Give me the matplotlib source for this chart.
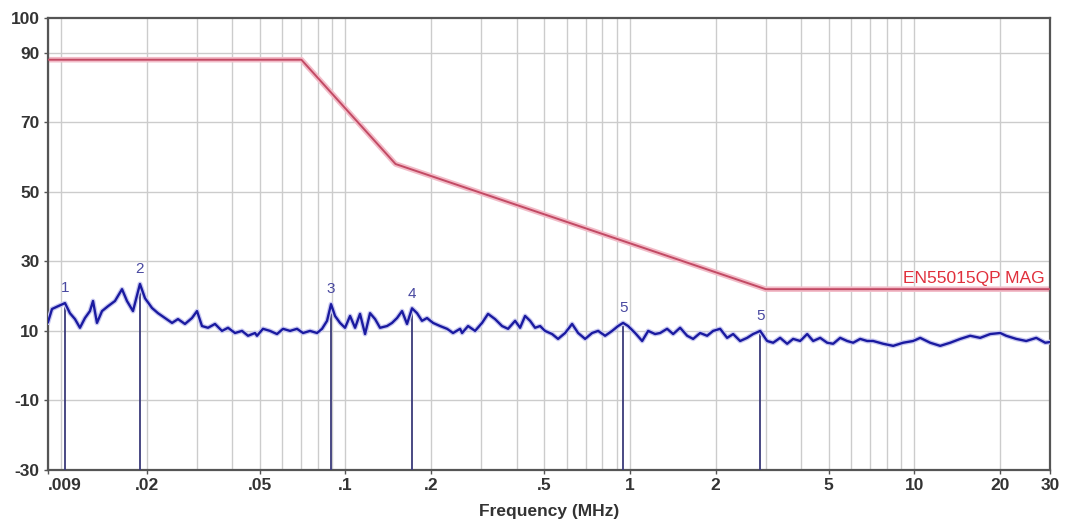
import numpy as np
import matplotlib
matplotlib.use('Agg')
import matplotlib.pyplot as plt
from matplotlib.ticker import FixedLocator, NullFormatter

plt.rcParams['font.family'] = ['Liberation Sans', 'DejaVu Sans']

# limit line EN55015 QP (magnetic), MHz / dB
limit_freq = [0.009, 0.07, 0.15, 3.0, 30.0]
limit_level = [88, 88, 58, 22, 22]

trace_freq = [0.0090, 0.00930, 0.00976, 0.01033, 0.01075, 0.01120, 0.01166, 0.01214,
              0.01264, 0.01296, 0.01338, 0.01394, 0.01463, 0.01548, 0.01639, 0.01706,
              0.01791, 0.01895, 0.01974, 0.02089, 0.02193, 0.02321, 0.02457, 0.02578,
              0.02728, 0.02887, 0.03007, 0.03131, 0.03287, 0.03479, 0.03681, 0.03865,
              0.04090, 0.04328, 0.04544, 0.04808, 0.04887, 0.05131, 0.05430, 0.05746,
              0.06033, 0.06384, 0.06756, 0.07093, 0.07506, 0.07946, 0.08273, 0.08615,
              0.08899, 0.09190, 0.09570, 0.09965, 0.1038, 0.1081, 0.1125, 0.1172,
              0.1220, 0.1271, 0.1323, 0.1400, 0.1458, 0.1518, 0.1581, 0.1646,
              0.1714, 0.1785, 0.1858, 0.1935, 0.2032, 0.2151, 0.2276, 0.2389,
              0.2529, 0.2570, 0.2698, 0.2855, 0.3021, 0.3171, 0.3356, 0.3552,
              0.3729, 0.3948, 0.4110, 0.4280, 0.4457, 0.4640, 0.4832, 0.5031,
              0.5325, 0.5589, 0.5917, 0.6262, 0.6574, 0.6958, 0.7362, 0.7730,
              0.8179, 0.8657, 0.9087, 0.9462, 0.9854, 1.043, 1.104, 1.159,
              1.226, 1.277, 1.351, 1.419, 1.501, 1.589, 1.668, 1.765,
              1.868, 1.961, 2.075, 2.196, 2.306, 2.440, 2.582, 2.711,
              2.870, 3.036, 3.187, 3.373, 3.570, 3.747, 3.967, 4.198,
              4.407, 4.664, 4.935, 5.181, 5.483, 5.802, 6.091, 6.446,
              6.822, 7.161, 7.768, 8.423, 9.130, 9.901, 10.48, 11.36,
              12.32, 13.36, 14.49, 15.71, 17.03, 18.47, 20.03, 21.02,
              22.80, 24.72, 26.81, 28.83, 30.0]
trace_level = [12.5, 16.3, 17.1, 18.0, 15.1, 13.4, 10.9, 13.7,
               15.7, 18.6, 12.3, 15.7, 17.1, 18.6, 22.0, 18.6,
               15.7, 23.5, 19.4, 16.6, 15.1, 13.7, 12.3, 13.4,
               12.0, 13.7, 15.7, 11.4, 10.9, 12.0, 10.0, 10.9,
               9.4, 10.0, 8.6, 9.4, 8.6, 10.6, 10.0, 9.1,
               10.6, 10.0, 10.6, 9.4, 10.0, 9.4, 10.6, 12.9,
               17.7, 14.3, 12.3, 10.9, 14.3, 10.9, 14.9, 9.1,
               15.1, 13.4, 10.9, 11.4, 12.3, 13.7, 15.7, 12.0,
               16.5, 15.1, 12.9, 13.7, 12.3, 11.4, 10.6, 9.4,
               10.6, 9.4, 11.4, 10.0, 12.3, 14.9, 13.4, 11.4,
               10.6, 12.9, 10.9, 14.3, 12.9, 10.9, 11.4, 10.0,
               9.1, 7.7, 9.4, 12.0, 9.4, 7.7, 9.4, 10.0,
               8.6, 10.0, 11.4, 12.3, 11.4, 9.4, 7.1, 10.0,
               9.1, 9.4, 10.6, 9.1, 10.9, 8.6, 7.7, 9.4,
               8.6, 10.0, 10.6, 8.0, 9.1, 7.1, 8.0, 9.1,
               10.0, 7.1, 6.6, 8.0, 6.3, 7.7, 7.1, 9.1,
               7.1, 8.0, 6.6, 6.3, 8.0, 7.1, 6.6, 7.7,
               7.1, 7.1, 6.3, 5.7, 6.6, 7.1, 8.0, 6.6,
               5.7, 6.6, 7.7, 8.6, 8.0, 9.1, 9.4, 8.6,
               7.7, 7.1, 8.0, 6.6, 6.8]

# peak markers
marker_labels = ['1', '2', '3', '4', '5', '5']
marker_freq = [0.01033, 0.01895, 0.08899, 0.1714, 0.9462, 2.870]
marker_level = [18.0, 23.5, 17.7, 16.5, 12.3, 10.0]

xtick_vals = [0.009, 0.02, 0.05, 0.1, 0.2, 0.5, 1, 2, 5, 10, 20, 30]
xtick_text = ['.009', '.02', '.05', '.1', '.2', '.5', '1', '2', '5', '10', '20', '30']
ytick_vals = [-30, -10, 10, 30, 50, 70, 90, 100]

fig = plt.figure(figsize=(10.73, 5.26), dpi=100)
ax = fig.add_axes([0.0447, 0.1065, 0.934, 0.8593])
ax.set_xscale('log')
ax.set_xlim(0.009, 30)
ax.set_ylim(-30, 100)

# grid: every 1..9 of each decade, every 20 dB
minor = [m * 10.0 ** e for e in range(-3, 2) for m in range(1, 10)]
minor = [v for v in minor if 0.009 < v < 30]
for v in minor:
    ax.axvline(v, color='#cccccc', lw=1.0, zorder=0)
for v in [-10, 10, 30, 50, 70, 90]:
    ax.axhline(v, color='#cccccc', lw=1.0, zorder=0)

ax.plot(limit_freq, limit_level, color='#f2bcc8', lw=4, zorder=2, solid_capstyle='butt')
ax.plot(limit_freq, limit_level, color='#c24a64', lw=1.4, zorder=3)
ax.text(28.6, 25.2, 'EN55015QP MAG', color='#e0303c', fontsize=12.5,
        ha='right', va='center', zorder=4)

ax.plot(trace_freq, trace_level, color='#c8c8f0', lw=3.5, zorder=4)
ax.plot(trace_freq, trace_level, color='#1a1aa0', lw=1.7, zorder=4)

for lab, f, lv in zip(marker_labels, marker_freq, marker_level):
    ax.plot([f, f], [-30, lv], color='#3a3a7a', lw=1.3, zorder=3)
    ax.text(f, lv + 2.2, lab, color='#4848a0', fontsize=11, ha='center', va='bottom', zorder=5)

ax.xaxis.set_major_locator(FixedLocator(xtick_vals))
ax.xaxis.set_minor_formatter(NullFormatter())
ax.xaxis.set_minor_locator(FixedLocator([]))
ax.set_xticklabels(xtick_text)
ax.get_xticklabels()[0].set_horizontalalignment('left')
ax.set_yticks(ytick_vals)
ax.set_yticklabels([str(v) for v in ytick_vals])
ax.tick_params(axis='both', length=3, width=1, color='#555555', labelsize=12.5,
               labelcolor='#333333', pad=3)
for lab in ax.get_xticklabels() + ax.get_yticklabels():
    lab.set_fontweight('bold')

ax.set_xlabel('Frequency (MHz)', fontsize=12.5, fontweight='bold', color='#333333', labelpad=8)

for s in ax.spines.values():
    s.set_color('#555555')
    s.set_linewidth(1.6)

fig.savefig('out.png', dpi=100)
